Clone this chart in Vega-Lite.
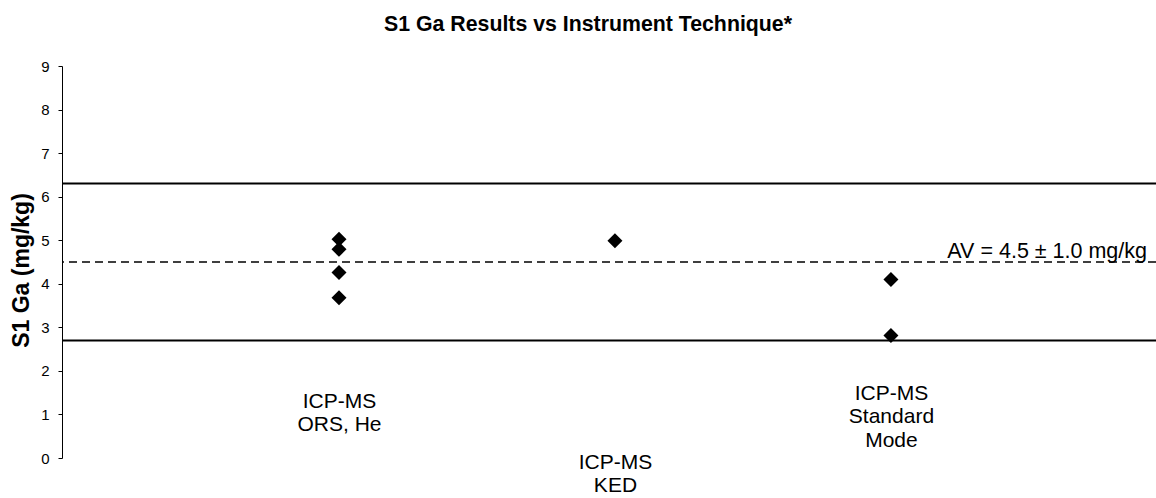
{
  "$schema": "https://vega.github.io/schema/vega-lite/v6.json",
  "width": 1094,
  "height": 392,
  "autosize": "none",
  "padding": {"left": 62, "top": 66, "right": 0, "bottom": 40},
  "background": "white",
  "config": {"view": {"stroke": null}, "font": "Liberation Sans"},
  "title": {
    "text": "S1 Ga Results vs Instrument Technique*",
    "fontSize": 21.3,
    "fontWeight": "bold",
    "font": "Liberation Sans",
    "color": "black",
    "anchor": "middle",
    "frame": "group",
    "dx": -21,
    "offset": 24
  },
  "datasets": {
    "results": [
      {"technique": "ICP-MS\nORS, He", "ga": 5.02},
      {"technique": "ICP-MS\nORS, He", "ga": 4.79},
      {"technique": "ICP-MS\nORS, He", "ga": 4.26},
      {"technique": "ICP-MS\nORS, He", "ga": 3.68},
      {"technique": "ICP-MS\nKED", "ga": 4.99},
      {"technique": "ICP-MS\nStandard\nMode", "ga": 4.10},
      {"technique": "ICP-MS\nStandard\nMode", "ga": 2.81}
    ],
    "limits": [{"limit": 6.3}, {"limit": 2.7}],
    "av": [{"label": "AV = 4.5 ± 1.0 mg/kg", "value": 4.5}]
  },
  "layer": [
    {
      "data": {"name": "limits"},
      "mark": {"type": "rule", "color": "black", "strokeWidth": 2},
      "encoding": {"y": {"field": "limit", "type": "quantitative"}}
    },
    {
      "data": {"name": "av"},
      "mark": {"type": "rule", "color": "black", "strokeWidth": 1.5, "strokeDash": [8, 5]},
      "encoding": {"y": {"field": "value", "type": "quantitative"}}
    },
    {
      "data": {"name": "av"},
      "mark": {"type": "text", "align": "right", "baseline": "alphabetic", "fontSize": 21.5, "color": "black", "dx": -9, "dy": -4},
      "encoding": {
        "x": {"value": "width"},
        "y": {"field": "value", "type": "quantitative"},
        "text": {"field": "label"}
      }
    },
    {
      "data": {"name": "results"},
      "mark": {"type": "point", "shape": "diamond", "filled": true, "color": "black", "size": 225, "opacity": 1},
      "encoding": {
        "x": {
          "field": "technique",
          "type": "nominal",
          "sort": null,
          "scale": {"type": "point", "padding": 0.982, "align": 0.511},
          "axis": {
            "title": null,
            "domain": false,
            "ticks": false,
            "tickSize": 0,
            "labelExpr": "split(datum.value, '\\n')",
            "labelFontSize": 21,
            "labelColor": "black",
            "labelBaseline": "top",
            "labelLineHeight": 23.5,
            "labelOverlap": false,
            "labelFlush": false,
            "labelAngle": 0,
            "labelPadding": {
              "condition": [
                {"test": "indexof(datum.value, 'ORS') >= 0", "value": -68},
                {"test": "indexof(datum.value, 'Standard') >= 0", "value": -76}
              ],
              "value": -7
            }
          }
        },
        "y": {
          "field": "ga",
          "type": "quantitative",
          "scale": {"domain": [0, 9], "nice": false},
          "axis": {
            "title": "S1 Ga (mg/kg)",
            "titleFontSize": 23,
            "titleFontWeight": "bold",
            "titleColor": "black",
            "titlePadding": 7,
            "titleY": 204,
            "values": [0, 1, 2, 3, 4, 5, 6, 7, 8, 9],
            "tickSize": 4,
            "tickColor": "black",
            "domainColor": "black",
            "labelFontSize": 15,
            "labelColor": "black",
            "labelPadding": 9,
            "labelFlush": false,
            "grid": false
          }
        }
      }
    }
  ]
}
